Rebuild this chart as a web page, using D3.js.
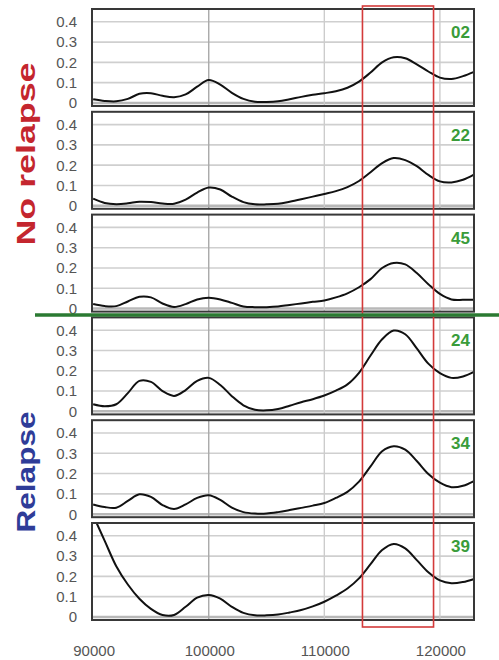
<!DOCTYPE html>
<html>
<head>
<meta charset="utf-8">
<script src="https://cdn.jsdelivr.net/npm/d3@7/dist/d3.min.js"></script>
<style>
  body { margin: 0; background: #fff; }
  text { font-family: Arial, "Liberation Sans", sans-serif; }
</style>
</head>
<body>
<div id="chart"></div>
<script>
// data
var masses = [90000, 91000, 92000, 93000, 94000, 95000, 96000, 97000, 98000, 99000,
  100000, 101000, 102000, 103000, 104000, 105000, 106000, 107000, 108000, 109000,
  110000, 111000, 112000, 113000, 114000, 115000, 116000, 117000, 118000, 119000,
  120000, 121000, 122000, 122900];

var sample02 = [0.018, 0.010, 0.008, 0.020, 0.045, 0.048, 0.035, 0.028, 0.042, 0.080,
  0.113, 0.090, 0.050, 0.020, 0.006, 0.005, 0.008, 0.018, 0.030, 0.040,
  0.048, 0.058, 0.075, 0.105, 0.150, 0.200, 0.225, 0.220, 0.190, 0.155,
  0.125, 0.118, 0.132, 0.152];
var sample22 = [0.035, 0.014, 0.008, 0.012, 0.020, 0.018, 0.011, 0.010, 0.030, 0.065,
  0.090, 0.080, 0.045, 0.018, 0.007, 0.007, 0.010, 0.020, 0.032, 0.045,
  0.058, 0.072, 0.092, 0.122, 0.165, 0.210, 0.235, 0.225, 0.195, 0.152,
  0.120, 0.115, 0.128, 0.152];
var sample45 = [0.022, 0.012, 0.012, 0.035, 0.058, 0.055, 0.025, 0.008, 0.022, 0.045,
  0.053, 0.045, 0.028, 0.010, 0.007, 0.007, 0.010, 0.018, 0.025, 0.033,
  0.040, 0.055, 0.075, 0.105, 0.145, 0.200, 0.225, 0.218, 0.175, 0.120,
  0.072, 0.045, 0.043, 0.044];
var sample24 = [0.035, 0.025, 0.035, 0.090, 0.150, 0.145, 0.100, 0.076, 0.105, 0.150,
  0.165, 0.130, 0.075, 0.030, 0.008, 0.005, 0.012, 0.028, 0.045, 0.060,
  0.078, 0.102, 0.133, 0.190, 0.275, 0.355, 0.398, 0.380, 0.310, 0.235,
  0.188, 0.165, 0.172, 0.193];
var sample34 = [0.048, 0.035, 0.032, 0.065, 0.098, 0.085, 0.045, 0.025, 0.048, 0.080,
  0.093, 0.070, 0.032, 0.010, 0.003, 0.003, 0.010, 0.020, 0.031, 0.042,
  0.055, 0.080, 0.110, 0.160, 0.235, 0.310, 0.335, 0.318, 0.262, 0.198,
  0.155, 0.133, 0.140, 0.162];
var sample39 = [0.500, 0.375, 0.250, 0.160, 0.090, 0.040, 0.010, 0.010, 0.050, 0.095,
  0.108, 0.090, 0.050, 0.020, 0.008, 0.008, 0.012, 0.022, 0.034, 0.052,
  0.075, 0.105, 0.140, 0.190, 0.260, 0.330, 0.360, 0.338, 0.280, 0.220,
  0.180, 0.166, 0.172, 0.186];

var panelNames = ["02", "22", "45", "24", "34", "39"];
var panelSeries = [sample02, sample22, sample45, sample24, sample34, sample39];
var yTicks = [0, 0.1, 0.2, 0.3, 0.4];
var xTicks = [90000, 100000, 110000, 120000];
var windowRange = [113300, 119450];   // highlighted region
var groupLabels = ["No  relapse", "Relapse"];

var width = 499, height = 660;
var panelH = 97, panelStep = 102.8, firstTop = 9;

var svg = d3.select("#chart")
  .append("svg")
    .attr("width", width)
    .attr("height", height);

var x = d3.scaleLinear()
  .domain([89900, 122950])
  .range([92, 474]);

var line = d3.line()
  .curve(d3.curveCatmullRom.alpha(0.5));

panelSeries.forEach(function(vals, i) {
  var top = firstTop + i * panelStep;
  var y = d3.scaleLinear()
    .domain([-0.015, 0.463])
    .range([top + panelH, top]);

  var g = svg.append("g");

  g.append("clipPath")
    .attr("id", "clip" + i)
    .append("rect")
      .attr("x", 92).attr("y", top)
      .attr("width", 382).attr("height", panelH);

  // horizontal grid
  g.selectAll(".hg")
    .data(yTicks)
    .enter().append("line")
      .attr("x1", 92).attr("x2", 474)
      .attr("y1", function(d) { return y(d); })
      .attr("y2", function(d) { return y(d); })
      .attr("stroke", function(d) { return d === 0 ? "#b8b8b8" : "#cfcfcf"; })
      .attr("stroke-width", function(d) { return d === 0 ? 2.5 : 1.6; });

  // vertical grid
  g.selectAll(".vg")
    .data(xTicks.slice(1))
    .enter().append("line")
      .attr("x1", function(d) { return x(d); })
      .attr("x2", function(d) { return x(d); })
      .attr("y1", top).attr("y2", top + panelH)
      .attr("stroke", function(d) { return d === 100000 ? "#a8a8a8" : "#cccccc"; })
      .attr("stroke-width", 1.4);

  // y axis labels
  g.selectAll(".yl")
    .data(yTicks)
    .enter().append("text")
      .attr("x", 77)
      .attr("y", function(d) { return y(d); })
      .attr("dy", "0.36em")
      .attr("text-anchor", "end")
      .attr("font-size", 15)
      .attr("fill", "#555")
      .text(function(d) { return d === 0 ? "0" : d3.format(".1f")(d); });

  // spectrum
  g.append("path")
    .attr("clip-path", "url(#clip" + i + ")")
    .attr("d", line(masses.map(function(m, k) { return [x(m), y(vals[k])]; })))
    .attr("fill", "none")
    .attr("stroke", "#111")
    .attr("stroke-width", 2);

  // frame
  g.append("rect")
    .attr("x", 92).attr("y", top)
    .attr("width", 382).attr("height", panelH)
    .attr("fill", "none")
    .attr("stroke", "#383838")
    .attr("stroke-width", 2);

  g.append("text")
    .attr("x", 470)
    .attr("y", top + 29)
    .attr("text-anchor", "end")
    .attr("font-size", 17)
    .attr("font-weight", "bold")
    .attr("fill", "#3a9c3a")
    .text(panelNames[i]);
});

// x axis labels
svg.selectAll(".xl")
  .data(xTicks)
  .enter().append("text")
    .attr("x", function(d) { return x(d) + (d === 90000 ? 1 : 1); })
    .attr("y", 656)
    .attr("text-anchor", "middle")
    .attr("font-size", 15)
    .attr("fill", "#555")
    .text(function(d) { return d; });

// red highlight box
svg.append("rect")
  .attr("x", x(windowRange[0]))
  .attr("y", 6)
  .attr("width", x(windowRange[1]) - x(windowRange[0]))
  .attr("height", 621)
  .attr("fill", "none")
  .attr("stroke", "#d33a3a")
  .attr("stroke-width", 1.6);

// divider between groups
svg.append("line")
  .attr("x1", 35).attr("x2", 499)
  .attr("y1", 315).attr("y2", 315)
  .attr("stroke", "#2b7a32")
  .attr("stroke-width", 3.5);

// group labels
svg.append("text")
  .attr("transform", "translate(35,154) rotate(-90)")
  .attr("text-anchor", "middle")
  .attr("font-size", 26)
  .attr("font-weight", "bold")
  .attr("fill", "#c4262e")
  .attr("textLength", 183)
  .attr("lengthAdjust", "spacingAndGlyphs")
  .text(groupLabels[0]);

svg.append("text")
  .attr("transform", "translate(35,472) rotate(-90)")
  .attr("text-anchor", "middle")
  .attr("font-size", 26)
  .attr("font-weight", "bold")
  .attr("fill", "#2f3c98")
  .attr("textLength", 121)
  .attr("lengthAdjust", "spacingAndGlyphs")
  .text(groupLabels[1]);
</script>
</body>
</html>
